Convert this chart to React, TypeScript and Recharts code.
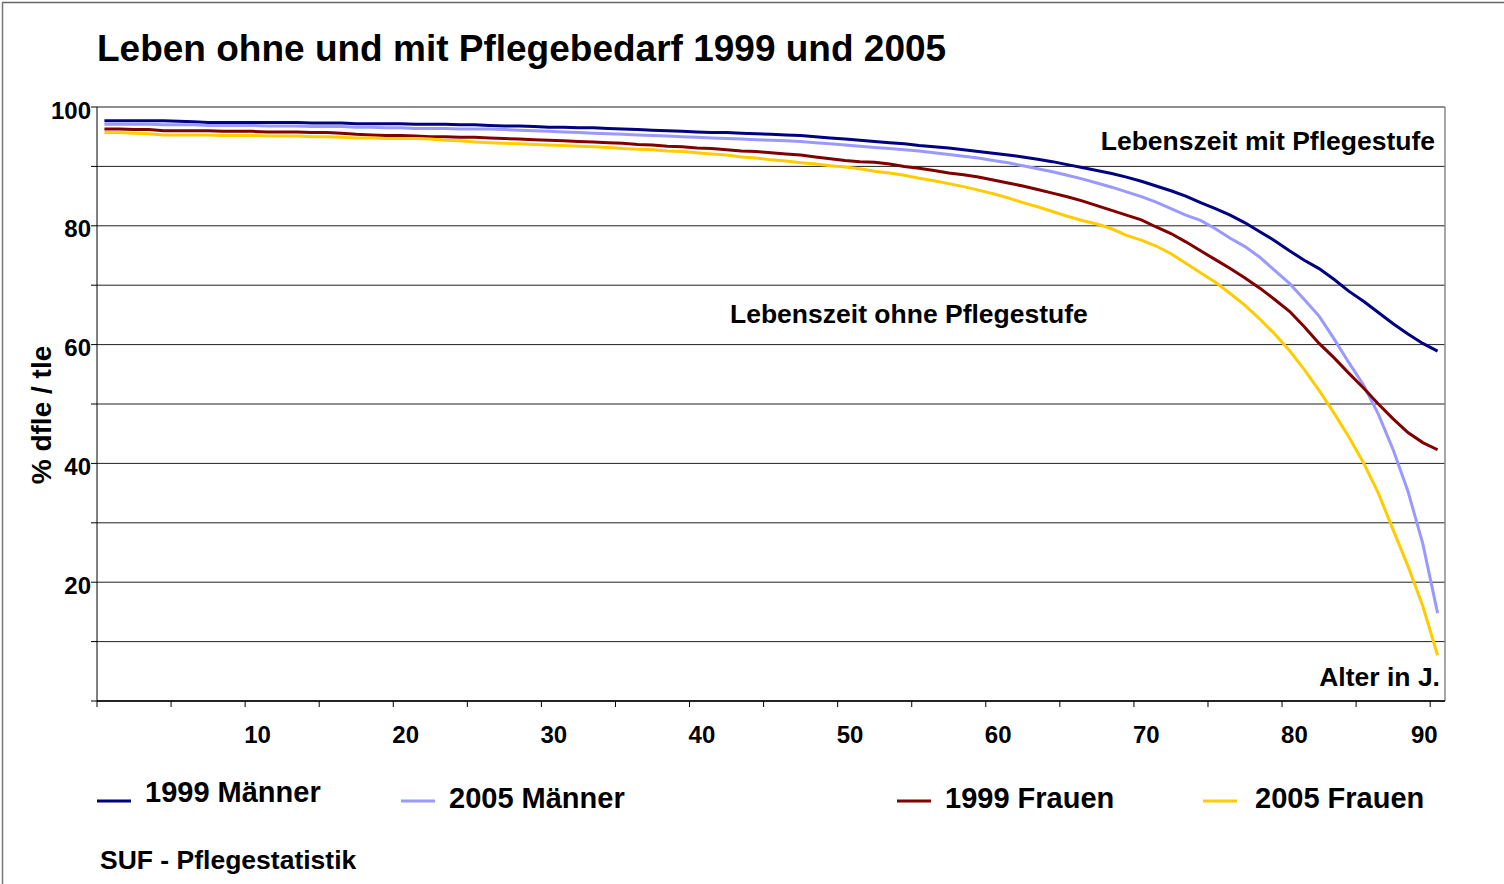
import React from 'react';
import { LineChart, Line, XAxis, YAxis, CartesianGrid, ReferenceLine } from 'recharts';

// Age categories (years)
const ages = [
  0, 1, 2, 3, 4, 5, 6, 7, 8, 9,
  10, 11, 12, 13, 14, 15, 16, 17, 18, 19,
  20, 21, 22, 23, 24, 25, 26, 27, 28, 29,
  30, 31, 32, 33, 34, 35, 36, 37, 38, 39,
  40, 41, 42, 43, 44, 45, 46, 47, 48, 49,
  50, 51, 52, 53, 54, 55, 56, 57, 58, 59,
  60, 61, 62, 63, 64, 65, 66, 67, 68, 69,
  70, 71, 72, 73, 74, 75, 76, 77, 78, 79,
  80, 81, 82, 83, 84, 85, 86, 87, 88, 89,
  90,
];

// % dfle / tle, 1999 Männer
const men1999 = [
  97.7, 97.7, 97.7, 97.7, 97.7, 97.6, 97.5, 97.4, 97.4, 97.4,
  97.4, 97.4, 97.4, 97.4, 97.3, 97.3, 97.3, 97.2, 97.2, 97.2,
  97.2, 97.1, 97.1, 97.1, 97.0, 97.0, 96.9, 96.8, 96.8, 96.7,
  96.6, 96.6, 96.5, 96.5, 96.4, 96.3, 96.2, 96.1, 96.0, 95.9,
  95.8, 95.7, 95.7, 95.6, 95.5, 95.4, 95.3, 95.2, 95.0, 94.8,
  94.6, 94.4, 94.2, 94.0, 93.8, 93.5, 93.3, 93.1, 92.8, 92.5,
  92.2, 91.9, 91.6, 91.2, 90.8, 90.3, 89.8, 89.3, 88.8, 88.2,
  87.5, 86.7, 85.9, 85.0, 83.9, 82.9, 81.8, 80.5, 79.0, 77.5,
  75.8, 74.2, 72.8, 71.0, 69.0, 67.3, 65.4, 63.5, 61.8, 60.2,
  58.9,
];

// % dfle / tle, 2005 Männer
const men2005 = [
  97.1, 97.1, 97.1, 97.1, 97.0, 97.0, 97.0, 96.9, 96.9, 96.9,
  96.9, 96.8, 96.8, 96.8, 96.7, 96.7, 96.7, 96.6, 96.6, 96.5,
  96.5, 96.4, 96.4, 96.4, 96.3, 96.3, 96.3, 96.2, 96.1, 96.0,
  95.9, 95.8, 95.7, 95.6, 95.5, 95.4, 95.3, 95.2, 95.1, 95.0,
  94.9, 94.8, 94.7, 94.6, 94.5, 94.4, 94.3, 94.2, 94.0, 93.8,
  93.6, 93.4, 93.2, 93.0, 92.8, 92.6, 92.3, 92.0, 91.7, 91.4,
  91.0, 90.6, 90.1, 89.6, 89.1, 88.5, 87.9, 87.2, 86.5, 85.7,
  84.9, 84.0, 82.9, 81.8, 80.9, 79.5, 77.9, 76.5, 74.7, 72.5,
  70.3, 67.6, 64.8, 61.0, 57.0, 53.2, 48.3, 42.3, 35.3, 26.5,
  14.8,
];

// % dfle / tle, 1999 Frauen
const women1999 = [
  96.3, 96.3, 96.2, 96.2, 96.0, 96.0, 96.0, 96.0, 95.9, 95.9,
  95.9, 95.8, 95.8, 95.8, 95.7, 95.7, 95.6, 95.4, 95.3, 95.2,
  95.2, 95.1, 95.0, 95.0, 94.9, 94.9, 94.8, 94.7, 94.6, 94.5,
  94.4, 94.3, 94.2, 94.1, 94.0, 93.9, 93.7, 93.6, 93.4, 93.3,
  93.1, 93.0, 92.8, 92.6, 92.5, 92.3, 92.1, 91.9, 91.6, 91.3,
  91.0, 90.8, 90.7, 90.4, 90.0, 89.7, 89.3, 88.9, 88.6, 88.2,
  87.7, 87.2, 86.7, 86.1, 85.5, 84.9, 84.2, 83.4, 82.6, 81.8,
  81.0, 79.8, 78.7, 77.3, 75.8, 74.3, 72.8, 71.2, 69.5, 67.6,
  65.6, 63.0, 60.2, 57.8, 55.2, 52.7, 50.0, 47.5, 45.2, 43.5,
  42.3,
];

// % dfle / tle, 2005 Frauen
const women2005 = [
  95.7, 95.7, 95.6, 95.5, 95.3, 95.3, 95.3, 95.3, 95.2, 95.2,
  95.2, 95.1, 95.1, 95.1, 95.0, 95.0, 94.9, 94.8, 94.8, 94.7,
  94.7, 94.7, 94.6, 94.4, 94.3, 94.1, 94.0, 93.9, 93.8, 93.7,
  93.6, 93.5, 93.4, 93.3, 93.2, 93.0, 92.9, 92.8, 92.6, 92.5,
  92.3, 92.1, 91.9, 91.6, 91.4, 91.1, 90.9, 90.6, 90.4, 90.1,
  89.9, 89.6, 89.2, 88.9, 88.5, 88.0, 87.6, 87.1, 86.6, 86.0,
  85.4, 84.7, 83.9, 83.2, 82.4, 81.6, 80.9, 80.3, 79.5, 78.4,
  77.6, 76.6, 75.3, 73.7, 72.1, 70.5, 68.6, 66.6, 64.3, 61.8,
  59.0, 55.8, 52.3, 48.5, 44.5, 40.1, 35.0, 28.8, 22.7, 16.0,
  7.7,
];

// Axis tick values
const xLabelTicks = [10, 20, 30, 40, 50, 60, 70, 80, 90];
const xMarkTicks = [-0.5, 4.5, 9.5, 14.5, 19.5, 24.5, 29.5, 34.5, 39.5, 44.5, 49.5, 54.5, 59.5, 64.5, 69.5, 74.5, 79.5, 84.5, 89.5];
const yTicks = [0, 10, 20, 30, 40, 50, 60, 70, 80, 90, 100];
const yLabelTicks = [20, 40, 60, 80, 100];

// Texts
const title = 'Leben ohne und mit Pflegebedarf 1999 und 2005';
const yAxisTitle = '% dfle / tle';
const labelWith = 'Lebenszeit mit Pflegestufe';
const labelWithout = 'Lebenszeit ohne Pflegestufe';
const xAxisTitle = 'Alter in J.';
const source = 'SUF - Pflegestatistik';

const series = [
  { key: 'm1999', name: '1999 Männer', color: '#000080' },
  { key: 'm2005', name: '2005 Männer', color: '#9999FF' },
  { key: 'f1999', name: '1999 Frauen', color: '#800000' },
  { key: 'f2005', name: '2005 Frauen', color: '#FFCC00' },
];

const data = ages.map((age, i) => ({
  age,
  m1999: men1999[i],
  m2005: men2005[i],
  f1999: women1999[i],
  f2005: women2005[i],
}));

const FONT = '"Liberation Sans", Arial, Helvetica, sans-serif';

// Legend layout (styles only)
const legendPos = [
  { lineX: 97, textX: 145, textY: 802 },
  { lineX: 401, textX: 449, textY: 808 },
  { lineX: 897, textX: 945, textY: 808 },
  { lineX: 1203, textX: 1255, textY: 808 },
];

const XTick = (props: any) => {
  const { x, y, payload } = props;
  const v = payload.value;
  if (xLabelTicks.includes(v)) {
    const isLast = v === xLabelTicks[xLabelTicks.length - 1];
    return (
      <text
        x={isLast ? x : x + 5}
        y={y + 42}
        textAnchor={isLast ? 'end' : 'middle'}
        fontFamily={FONT}
        fontWeight="bold"
        fontSize={24}
        fill="#000"
      >
        {v}
      </text>
    );
  }
  return <line x1={x} x2={x} y1={y} y2={y + 6} stroke="#000" strokeWidth={1} />;
};

export default function App() {
  return (
    <div style={{ position: 'absolute', left: 0, top: 0, width: 1504, height: 884, background: '#fff', overflow: 'hidden' }}>
      <LineChart
        width={1504}
        height={884}
        data={data}
        margin={{ top: 107, right: 59, bottom: 143, left: 37 }}
      >
        <CartesianGrid horizontal vertical={false} stroke="#222" strokeWidth={1} />
        <XAxis
          dataKey="age"
          type="number"
          domain={[-0.5, 90.5]}
          ticks={[...xMarkTicks, ...xLabelTicks]}
          interval={0}
          height={40}
          tickSize={0}
          tickMargin={0}
          tickLine={false}
          axisLine={{ stroke: '#000', strokeWidth: 1.5 }}
          tick={<XTick />}
          allowDataOverflow
        />
        <YAxis
          type="number"
          domain={[0, 100]}
          ticks={yTicks}
          interval={0}
          width={60}
          tickSize={6}
          tickMargin={0}
          axisLine={{ stroke: '#000', strokeWidth: 1 }}
          tickLine={{ stroke: '#000' }}
          tickFormatter={(v: number) => (yLabelTicks.includes(v) ? String(v) : '')}
          tick={{ fill: '#000', fontSize: 24, fontWeight: 'bold', fontFamily: FONT, dy: 3 }}
        />
        <ReferenceLine y={100} stroke="#8a8a8a" strokeWidth={1} />
        <ReferenceLine x={90.5} stroke="#8a8a8a" strokeWidth={1.5} />
        {series.map((s) => (
          <Line
            key={s.key}
            type="linear"
            dataKey={s.key}
            name={s.name}
            stroke={s.color}
            strokeWidth={3}
            dot={false}
            activeDot={false}
            isAnimationActive={false}
          />
        ))}
      </LineChart>
      <svg
        width={1504}
        height={884}
        style={{ position: 'absolute', left: 0, top: 0, pointerEvents: 'none' }}
      >
        <line x1={2} y1={2.5} x2={1504} y2={2.5} stroke="#666" strokeWidth={1.5} />
        <line x1={2.5} y1={2} x2={2.5} y2={884} stroke="#777" strokeWidth={1.5} />
        <g fontFamily={FONT} fontWeight="bold" fill="#000">
          <text x={97} y={61} fontSize={37}>{title}</text>
          <text x={51} y={415} fontSize={28} textAnchor="middle" transform="rotate(-90 51 415)">{yAxisTitle}</text>
          <text x={1435} y={150} fontSize={26.5} textAnchor="end">{labelWith}</text>
          <text x={730} y={323} fontSize={26.5}>{labelWithout}</text>
          <text x={1440} y={686} fontSize={26.5} textAnchor="end">{xAxisTitle}</text>
          <text x={100} y={869} fontSize={26.5}>{source}</text>
          {series.map((s, i) => (
            <g key={s.key}>
              <line
                x1={legendPos[i].lineX}
                x2={legendPos[i].lineX + 34}
                y1={801}
                y2={801}
                stroke={s.color}
                strokeWidth={3}
              />
              <text x={legendPos[i].textX} y={legendPos[i].textY} fontSize={29}>{s.name}</text>
            </g>
          ))}
        </g>
      </svg>
    </div>
  );
}
